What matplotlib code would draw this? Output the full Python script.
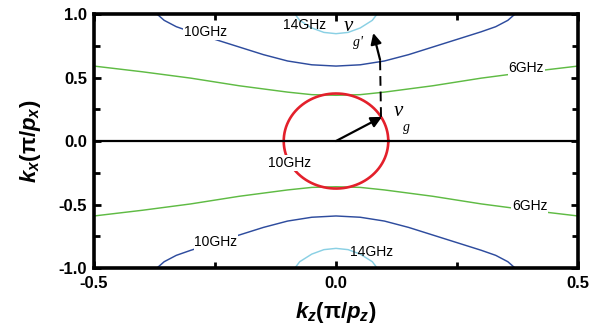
import numpy as np
import matplotlib
matplotlib.use("Agg")
import matplotlib.pyplot as plt
from matplotlib.ticker import MultipleLocator

plt.rcParams['font.family'] = ['Liberation Sans', 'DejaVu Sans']
plt.rcParams['mathtext.fontset'] = 'custom'
plt.rcParams['mathtext.rm'] = 'Liberation Sans:bold'
plt.rcParams['mathtext.it'] = 'Liberation Sans:bold:italic'
plt.rcParams['mathtext.bf'] = 'Liberation Sans:bold'

# ---- data (upper halves; curves are mirror symmetric in kx) ----
kz_6 = [-0.5, -0.4, -0.3, -0.2, -0.1, -0.05, 0.0, 0.05, 0.1, 0.2, 0.3, 0.4, 0.5]
kx_6 = [0.59, 0.545, 0.495, 0.435, 0.385, 0.365, 0.36, 0.365, 0.385, 0.435, 0.495, 0.545, 0.59]

kz_10 = [-0.37, -0.355, -0.33, -0.3, -0.25, -0.2, -0.15, -0.1, -0.05, 0.0,
         0.05, 0.1, 0.15, 0.2, 0.25, 0.3, 0.33, 0.355, 0.37]
kx_10 = [1.0, 0.95, 0.9, 0.86, 0.8, 0.74, 0.68, 0.63, 0.60, 0.59,
         0.60, 0.63, 0.68, 0.74, 0.8, 0.86, 0.9, 0.95, 1.0]

kz_14 = [-0.085, -0.075, -0.05, -0.025, 0.0, 0.025, 0.05, 0.075, 0.085]
kx_14 = [1.0, 0.95, 0.89, 0.855, 0.845, 0.855, 0.89, 0.95, 1.0]

# red circle (ellipse in data units)
circle_center = (0.0, 0.0)
circle_radii = (0.108, 0.374)

# group-velocity arrows
vg_start, vg_end = (0.0, 0.0), (0.095, 0.19)
dash_start, dash_end = (0.093, 0.19), (0.091, 0.64)
vg2_start, vg2_end = (0.091, 0.64), (0.077, 0.85)

# contour labels: (text, kz, kx, masked)
contour_labels = [
    ("10GHz", -0.27, 0.86, True),
    ("14GHz", -0.064, 0.915, False),
    ("6GHz", 0.393, 0.575, True),
    ("10GHz", -0.095, -0.173, True),
    ("10GHz", -0.248, -0.795, True),
    ("14GHz", 0.074, -0.874, False),
    ("6GHz", 0.40, -0.512, True),
]

c_green = '#5fbb44'
c_blue = '#2e4c9e'
c_cyan = '#8ad0e4'
c_red = '#e3202b'

fig = plt.figure(figsize=(6.04, 3.33), dpi=100)
ax = fig.add_axes([0.1556, 0.195, 0.8014, 0.763])

for kz, kx, col in [(kz_6, kx_6, c_green), (kz_10, kx_10, c_blue), (kz_14, kx_14, c_cyan)]:
    kz = np.asarray(kz); kx = np.asarray(kx)
    ax.plot(kz, kx, color=col, lw=1.05, zorder=2)
    ax.plot(kz, -kx, color=col, lw=1.05, zorder=2)

t = np.linspace(0, 2 * np.pi, 300)
ax.plot(circle_center[0] + circle_radii[0] * np.cos(t),
        circle_center[1] + circle_radii[1] * np.sin(t),
        color=c_red, lw=1.9, zorder=3)

ax.axhline(0.0, color='black', lw=1.6, zorder=4)

ax.annotate('', xy=vg_end, xytext=vg_start,
            arrowprops=dict(arrowstyle='-|>', color='black', lw=1.6,
                            mutation_scale=16, shrinkA=0, shrinkB=0), zorder=6)
ax.plot([dash_start[0], dash_end[0]], [dash_start[1], dash_end[1]],
        color='black', lw=1.4, dashes=(5, 3), zorder=5)
ax.annotate('', xy=vg2_end, xytext=vg2_start,
            arrowprops=dict(arrowstyle='-|>', color='black', lw=1.6,
                            mutation_scale=16, shrinkA=0, shrinkB=0), zorder=6)

for txt, x, y, masked in contour_labels:
    kw = {}
    if masked:
        kw['bbox'] = dict(fc='white', ec='none', pad=0.6)
    ax.text(x, y, txt, fontsize=10, ha='center', va='center', zorder=7, **kw)

# v_g labels
ax.text(0.128, 0.20, 'v', family='Liberation Serif', style='italic', fontsize=15,
        ha='center', va='baseline', zorder=7)
ax.text(0.145, 0.08, 'g', family='Liberation Serif', style='italic', fontsize=10,
        ha='center', va='baseline', zorder=7)
ax.text(0.026, 0.87, 'v', family='Liberation Serif', style='italic', fontsize=15,
        ha='center', va='baseline', zorder=7)
ax.text(0.045, 0.745, "g'", family='Liberation Serif', style='italic', fontsize=10,
        ha='center', va='baseline', zorder=7)

ax.set_xlim(-0.5, 0.5)
ax.set_ylim(-1.0, 1.0)
ax.set_xticks([-0.5, 0.0, 0.5])
ax.set_yticks([-1.0, -0.5, 0.0, 0.5, 1.0])
ax.xaxis.set_minor_locator(MultipleLocator(0.25))
ax.yaxis.set_minor_locator(MultipleLocator(0.25))
ax.set_xticklabels(['-0.5', '0.0', '0.5'])
ax.set_yticklabels(['-1.0', '-0.5', '0.0', '0.5', '1.0'])
ax.tick_params(which='both', direction='in', top=True, right=True, width=2)
ax.tick_params(which='major', length=5, labelsize=12)
ax.tick_params(axis='x', which='major', pad=6)
ax.tick_params(axis='y', which='major', pad=5)
ax.tick_params(which='minor', length=4)
for lab in ax.get_xticklabels() + ax.get_yticklabels():
    lab.set_fontweight('bold')
for sp in ax.spines.values():
    sp.set_linewidth(2.6)

ax.set_xlabel(r'$k_{z}\mathrm{(π/}p_{z}\mathrm{)}$', fontsize=16, labelpad=6)
ax.set_ylabel(r'$k_{x}\mathrm{(π/}p_{x}\mathrm{)}$', fontsize=16, labelpad=11)

fig.savefig('out.png', dpi=100)
